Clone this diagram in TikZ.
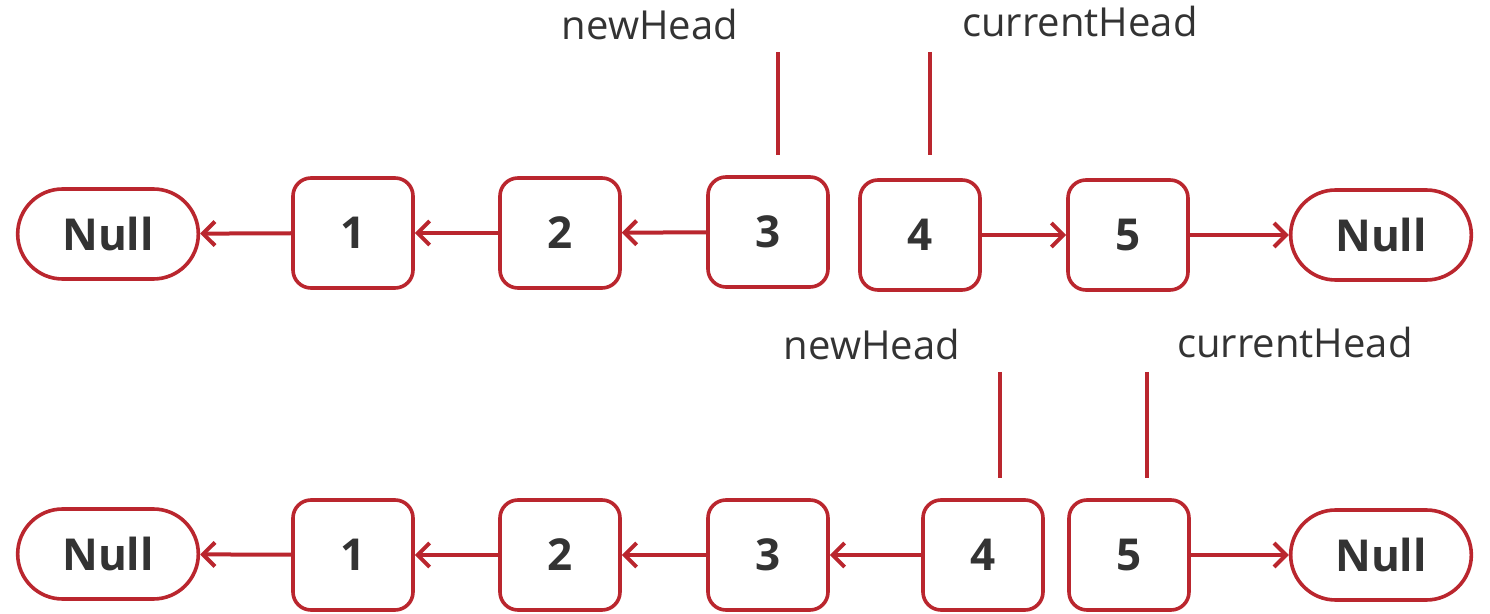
\documentclass[tikz,border=0pt]{standalone}
\usepackage{fontspec}
\setmainfont{Open Sans}
\usetikzlibrary{arrows.meta,shapes.misc}
\definecolor{listred}{RGB}{186,38,46}
\definecolor{listtext}{RGB}{51,51,51}
\tikzset{x=0.5pt, y=-0.5pt,
        every node/.style={ % Text colour of every label
            text=listtext},
        cell/.style={ % A node of the list
            draw=listred, line width=1.8pt, fill=white,
            rounded corners=9pt,
            minimum width=60pt, minimum height=55pt,
            font=\bfseries\fontsize{22}{24}\selectfont},
        nullcell/.style={ % End of the list
            draw=listred, line width=1.8pt, fill=white,
            rounded rectangle,
            minimum width=97pt, minimum height=45pt,
            font=\bfseries\fontsize{22}{24}\selectfont},
        link/.style={ % Pointer between two cells
            draw=listred, line width=2pt,
            -{Straight Barb[length=6pt,width=12pt,line width=2pt]}},
        marker/.style={ % Vertical line above a cell
            draw=listred, line width=2pt},
        tag/.style={ % Name of a pointer
            font=\fontsize{20}{22}\selectfont}
        }
\begin{document}
\begin{tikzpicture}
    \useasboundingbox (0,0) rectangle (1490,614);

    % first row
    \node[nullcell] (nl) at (108,234) {Null};
    \node[cell] (a1) at (353,233) {1};
    \node[cell] (a2) at (560,233) {2};
    \node[cell] (a3) at (768,232) {3};
    \node[cell] (a4) at (920,235) {4};
    \node[cell] (a5) at (1128,235) {5};
    \node[nullcell] (nr) at (1381,235) {Null};

    \node[tag] (newa) at (650,25) {newHead};
    \node[tag] (cura) at (1080,22) {currentHead};
    \coordinate (ma1) at (778,52);
    \coordinate (ma2) at (778,155);
    \coordinate (mb1) at (930,52);
    \coordinate (mb2) at (930,155);

    \draw[link] (a1) -- (nl);
    \draw[link] (a2) -- (a1);
    \draw[link] (a3) -- (a2);
    \draw[link] (a4) -- (a5);
    \draw[link] (a5) -- (nr);
    \draw[marker] (ma1) -- (ma2);
    \draw[marker] (mb1) -- (mb2);

    % second row
    \node[nullcell] (ml) at (108,554) {Null};
    \node[cell] (b1) at (353,555) {1};
    \node[cell] (b2) at (560,555) {2};
    \node[cell] (b3) at (768,555) {3};
    \node[cell] (b4) at (983,555) {4};
    \node[cell] (b5) at (1129,555) {5};
    \node[nullcell] (mr) at (1381,555) {Null};

    \node[tag] (newb) at (872,345) {newHead};
    \node[tag] (curb) at (1295,343) {currentHead};
    \coordinate (mc1) at (1000,372);
    \coordinate (mc2) at (1000,478);
    \coordinate (md1) at (1147,372);
    \coordinate (md2) at (1147,478);

    \draw[link] (b1) -- (ml);
    \draw[link] (b2) -- (b1);
    \draw[link] (b3) -- (b2);
    \draw[link] (b4) -- (b3);
    \draw[link] (b5) -- (mr);
    \draw[marker] (mc1) -- (mc2);
    \draw[marker] (md1) -- (md2);
\end{tikzpicture}
\end{document}
